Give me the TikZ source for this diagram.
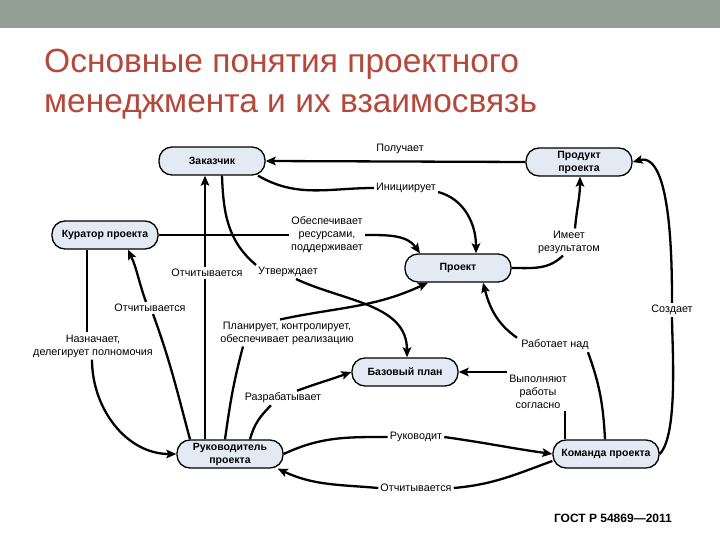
\documentclass[tikz,border=0pt]{standalone}
\usepackage{fontspec}
\setmainfont{Liberation Sans}
\usetikzlibrary{arrows.meta}
\definecolor{band}{HTML}{939F95}
\definecolor{ttl}{HTML}{B4493B}
\definecolor{boxfill}{HTML}{E4EAF4}
\begin{document}
\begin{tikzpicture}[x=1pt,y=-1pt,
  box/.style={draw=black, line width=1.3pt, fill=boxfill, rounded corners=13pt,
    minimum width=106pt, minimum height=28pt, align=center, inner sep=1pt,
    font=\fontsize{10.5}{13}\selectfont\bfseries},
  lbl/.style={align=center, inner sep=2pt, font=\fontsize{10.8}{13}\selectfont},
  link/.style={line width=2.3pt},
  arr/.style={link, -{Stealth[length=10pt,width=8.5pt,inset=2pt]}},
  ttlstyle/.style={anchor=base west, inner sep=0pt, text=ttl, font=\fontsize{33.5}{40}\selectfont}]
\useasboundingbox (0,0) rectangle (720,540);
\fill[white] (0,0) rectangle (720,540);
\fill[band] (0,0) rectangle (720,28);
\node[ttlstyle] (title1) at (44,73) {Основные понятия проектного};
\node[ttlstyle] (title2) at (44,113) {менеджмента и их взаимосвязь};

% nodes
\node[box] (zak)  at (212,161) {Заказчик};
\node[box] (prod) at (579,162) {Продукт\\проекта};
\node[box] (kur)  at (105,235) {Куратор проекта};
\node[box] (proj) at (458,268) {Проект};
\node[box] (baz)  at (405,372) {Базовый план};
\node[box] (ruk)  at (230,454) {Руководитель\\проекта};
\node[box] (kom)  at (606,454) {Команда проекта};

% labels
\node[lbl] (lPol) at (400,149) {Получает};
\node[lbl] (lIni) at (406,188) {Инициирует};
\node[lbl] (lObe) at (327,235) {Обеспечивает\\ресурсами,\\поддерживает};
\node[lbl] (lOtZ) at (207,273) {Отчитывается};
\node[lbl] (lUtv) at (288,272) {Утверждает};
\node[lbl] (lPla) at (287,333) {Планирует, контролирует,\\обеспечивает реализацию};
\node[lbl] (lOtK) at (150,308) {Отчитывается};
\node[lbl] (lNaz) at (93,346) {Назначает,\\делегирует полномочия};
\node[lbl] (lRaz) at (283,398) {Разрабатывает};
\node[lbl] (lRuk) at (416,437) {Руководит};
\node[lbl] (lOtR) at (416,488) {Отчитывается};
\node[lbl] (lVyp) at (538,392) {Выполняют\\работы\\согласно};
\node[lbl] (lRab) at (555,345) {Работает над};
\node[lbl] (lSoz) at (672,310) {Создает};
\node[lbl] (lIme) at (569,242) {Имеет\\результатом};
\node[anchor=east, inner sep=0pt, font=\fontsize{12}{14}\selectfont\bfseries] (gost) at (672,518) {ГОСТ Р 54869—2011};

% connectors
\draw[arr] (prod.west) -- (zak.east);

\draw[link] ([xshift=46pt]zak.south) to[out=-30,in=180] (lIni.west);
\draw[arr] ([yshift=-4pt]lIni.east) to[out=-15,in=90] ([xshift=18pt]proj.north);

\draw[link] (kur.east) -- (lObe.west |- kur.east);
\draw[arr] (lObe.east |- kur.east) to[out=0,in=125] ([xshift=-38pt]proj.north);

\draw[link] ([xshift=-25pt]ruk.north) -- ([xshift=-25pt]ruk.north |- lOtZ.south);
\draw[arr] ([xshift=-25pt]ruk.north |- lOtZ.north) -- ([xshift=-7pt]zak.south);

\draw[link] ([xshift=10pt]zak.south) to[out=-88,in=140] (lUtv.north west);
\draw[arr] ([xshift=8pt]lUtv.south) to[out=-25,in=90] ([xshift=2pt]baz.north);

\draw[link] ([xshift=-5pt]ruk.north) to[out=82,in=-105] ([xshift=-44pt]lPla.south);
\draw[arr] ([xshift=-7pt]lPla.north) to[out=12,in=-155] ([xshift=-30pt]proj.south);

\draw[link] ([xshift=-40pt]ruk.north) to[out=105,in=-70] ([xshift=3pt]lOtK.south);
\draw[arr] ([xshift=-4pt]lOtK.north) to[out=110,in=-65] ([xshift=23pt]kur.south);

\draw[link] ([xshift=-18pt]kur.south) -- ([xshift=-18pt]kur.south |- lNaz.north);
\draw[arr] ([xshift=-1pt]lNaz.south) to[out=-90,in=180] (ruk.west);

\draw[link] ([xshift=20pt]ruk.north) to[out=75,in=-135] ([xshift=-12pt]lRaz.south);
\draw[arr] ([xshift=14pt]lRaz.north) to[out=20,in=200] (baz.west);

\draw[link] (ruk.east) to[out=25,in=180] (lRuk.west);
\draw[arr] (lRuk.east) to[out=-8,in=172] (kom.west);

\draw[link] ([yshift=-7pt]kom.west) to[out=200,in=5] (lOtR.east);
\draw[arr] (lOtR.west) to[out=175,in=-25] ([xshift=-6pt]ruk.south east);

\draw[link] ([xshift=-41pt]kom.north) -- ([xshift=-41pt]kom.north |- lVyp.south);
\draw[arr] (lVyp.west |- baz.east) -- (baz.east);

\draw[link] ([xshift=-1pt]kom.north) to[out=93,in=-70] ([xshift=-3pt]lRab.south east);
\draw[arr] ([xshift=-2pt]lRab.north west) to[out=145,in=-75] ([xshift=25pt]proj.south);

\draw[link] (kom.east) to[out=45,in=-90,looseness=0.5] (lSoz.south);
\draw[arr] (lSoz.north) to[out=90,in=15,looseness=0.7] (prod.east);

\draw[link] (proj.east) to[out=0,in=-135] ([xshift=-6pt]lIme.south);
\draw[arr] ([xshift=6pt]lIme.north) to[out=85,in=-90] ([xshift=1pt]prod.south);
\end{tikzpicture}
\end{document}
